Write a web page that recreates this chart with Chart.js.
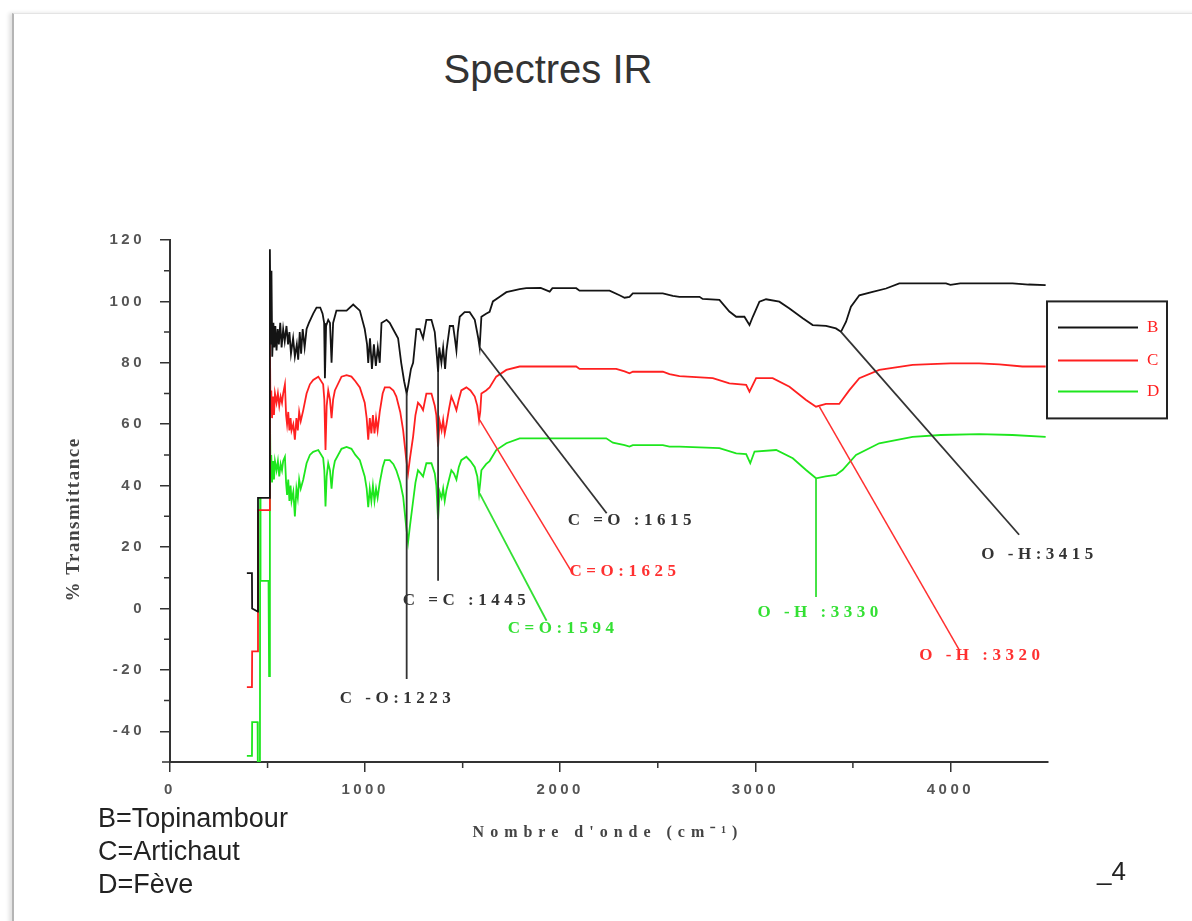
<!DOCTYPE html>
<html><head><meta charset="utf-8">
<script src="https://cdn.jsdelivr.net/npm/chart.js@4.4.1/dist/chart.umd.min.js"></script>
<style>
html,body{margin:0;padding:0;background:#fff;width:1192px;height:921px;overflow:hidden;position:relative;}
#frame{position:absolute;left:12px;top:13px;width:1200px;height:940px;border-left:2px solid #b5b5b5;border-top:1px solid #e4e4e4;box-shadow:-3px 0 4px rgba(0,0,0,0.12);}
#title{position:absolute;left:0;width:1096px;top:49px;line-height:40px;text-align:center;font-family:"Liberation Sans",Arial,sans-serif;font-size:40px;color:#333;}
#key{position:absolute;left:98px;top:802px;font-family:"Liberation Sans",Arial,sans-serif;font-size:27px;line-height:33px;color:#222;}
#num{position:absolute;left:1097px;top:856px;font-family:"Liberation Sans",Arial,sans-serif;font-size:26px;line-height:30px;color:#222;}
canvas{position:absolute;left:0;top:0;}
</style></head>
<body>
<div id="frame"></div>
<div id="title">Spectres IR</div>
<canvas id="c" width="1192" height="921"></canvas>
<div id="key">B=Topinambour<br>C=Artichaut<br>D=Fève</div>
<div id="num">_4</div>
<script>
// ---- Data ----
const bWave = [394,420,421,450,451,508,512,516,520,524,530,535,540,546,552,558,565,572,580,588,597,605,612,620,631,640,650,657,665,672,680,690,700,712,734,751,770,782,790,794,800,811,820,828,836,853,880,905,939,973,998,1010,1016,1025,1035,1045,1055,1065,1075,1084,1110,1126,1143,1169,1185,1200,1213,1222,1235,1246,1263,1280,1297,1314,1340,1357,1368,1374,1380,1391,1400,1410,1417,1434,1451,1460,1468,1475,1485,1510,1536,1562,1580,1587,1596,1620,1638,1655,1690,1724,1758,1792,1826,1900,1946,1960,2031,2082,2099,2253,2304,2330,2355,2372,2526,2577,2611,2714,2730,2816,2867,2902,2944,2970,2987,3021,3055,3123,3175,3243,3294,3362,3413,3439,3465,3490,3533,3601,3670,3738,3840,3977,4000,4050,4147,4318,4400,4488];
const bT    = [11.5,11.5,0,-1,36,36,117,86,110,82,93,85,92,84,91,86,93,85,91,87,92,86,90,83,88,82,86,81,90,83,91,85,91,93,96,98,98,96,93,75,92,94,93,80,93,97,97,97,99,97,91,86,80,88,78,86,79,85,80,93,94,93,91,88,80,74,70,73,78,80,91,91,88,94,94,90,82,77,85,80,85,78,84,92,92,88,84,90,95,96.5,96.5,94,88,85,95,96,96.6,100,101.5,103,103.5,104,104.3,104.4,103.2,104.3,104.3,104.3,103.5,103.5,102,101.2,101.5,102.6,102.6,101.8,101.5,101.5,100.8,100.5,96.7,95,95,92.3,95,99.9,100.7,99.9,97.7,94.5,92.3,92,91.2,90.1,93.4,98.3,102,103.1,104.2,105.9,105.9,105.9,105.4,105.9,105.9,105.9,105.5,105.3];

const cWave = [394,420,421,450,451,508,512,515,519,523,528,533,538,546,553,560,567,574,580,589,595,600,606,612,618,623,632,640,648,655,662,670,683,700,717,734,760,785,791,797,803,811,820,828,836,845,879,905,930,950,973,998,1008,1016,1024,1032,1040,1048,1056,1064,1075,1090,1101,1126,1145,1160,1180,1195,1210,1220,1230,1246,1258,1271,1285,1297,1314,1340,1357,1365,1374,1382,1392,1400,1408,1417,1430,1442,1455,1468,1480,1493,1519,1540,1562,1575,1584,1590,1596,1620,1638,1672,1724,1792,1900,2082,2099,2287,2330,2355,2372,2526,2560,2611,2782,2867,2953,2970,3004,3089,3175,3260,3311,3362,3430,3482,3533,3635,3806,3900,4000,4147,4250,4369,4488];
const cT    = [-25.6,-25.6,-14,-14,32,32,88.5,64,71,62,69,63,70,67,70,66,69,67,70,73,63,60,64,58,62,58,60,55,62,58,64,61,64.6,70,73,74.4,75.5,73,68,51.6,66,71,68,62,68,71,75.5,76,75.5,74,72,67,62,55,62,57,63,57,62,58,64,70,72,72,71,69,64,58,49,44,49,56,63,67,66,64.6,70,70,66,63,52.7,61,58,61.4,57,60,65,69,67,64.6,68,71,72,71,69,66,61.4,64,70,71,72,75.5,77.7,78.8,78.8,78.8,78,78,77.2,76.6,77.1,77.1,76.3,75.7,75,73.3,72.8,70.6,75,75,72.2,67.9,65.7,66.6,66.6,71.1,75,77.7,79.3,79.6,79.8,79.8,79.5,78.8,78.8];

const dWave = [394,420,421,449,450,461,462,464,505,508,512,515,519,523,528,533,538,546,553,560,567,574,580,589,595,600,606,612,618,623,632,640,648,655,662,670,683,700,717,734,760,785,791,797,803,811,820,828,836,845,879,905,930,950,973,998,1008,1016,1024,1032,1040,1048,1056,1064,1075,1090,1101,1126,1145,1160,1180,1195,1210,1220,1230,1246,1258,1271,1285,1297,1314,1340,1357,1365,1374,1382,1392,1400,1408,1417,1430,1442,1455,1468,1480,1493,1519,1540,1562,1575,1584,1590,1596,1620,1638,1672,1724,1792,1826,2236,2270,2330,2355,2372,2526,2560,2611,2816,2902,2953,2974,2996,3107,3192,3260,3311,3360,3413,3447,3516,3635,3806,3950,4147,4318,4488];
const dT    = [-48,-48,-37,-37,-50,-50,36,9,9,-22,64.6,46,50,41,48,42,48,45,48,43,47,45,48,49.4,41,37,42,35,40,35,38,30,39,36,42,39,42,47.3,50,51,51.6,49,45,33.2,43,47.3,45,39,45,48,52,52.6,52,50,48.3,43,39,33,39,35,40,35,39,36,41,46,48.3,48.3,47,45,41,36.4,27,21.5,27,35,41,45,44,43,47.3,47.3,44,40,29,38,36,39,35,38.6,42,45,44,42,46,48.3,49.4,48,46,43,37.5,41,45,47,48,51.6,53.8,55.4,55.4,55.4,54,53.2,52.7,53.2,53.2,52.7,52.7,52.2,50.5,50.3,47.3,51.1,51.6,48.9,45.1,42.4,43,43.5,45.1,50,53.8,55.9,56.5,56.8,56.5,55.9];

const seriesNames  = ['B','C','D'];
const seriesColors = ['#141414','#ff2020','#1ee61e'];
const labelColors  = ['#333333','#ff3030','#33e033'];

// Peak annotations (data coordinates)
const annText   = ['C -O:1223','C =C :1445','C =O :1615','C=O:1625','C=O:1594','O -H :3330','O -H :3320','O -H:3415'];
const annSeries = [0,0,0,1,2,2,1,0];
const annFromX  = [1213,1374,1587,1587,1587,3311,3328,3439];
const annFromY  = [70,77,85,61.4,37.5,42.4,65.7,90.1];
const annToX    = [1213,1374,2238,2058,1930,3311,4045,4352];
const annToY    = [-23,9,31,12,-4,3.7,-13.5,24];
const annLabelX = [870,1193,2038,2048,1731,3011,3840,4158];
const annLabelY = [-29.2,2.4,28.5,11.9,-6.4,-1.2,-15.5,17.4];

// Axis ticks and titles
const xTicks = [0,1000,2000,3000,4000];
const xMinor = [500,1500,2500,3500];
const yTicks = [-40,-20,0,20,40,60,80,100,120];
const yMinor = [-30,-10,10,30,50,70,90,110];
const xTitle = "Nombre d'onde (cm⁻¹)";
const yTitle = '% Transmittance';

const toPts = (xs, ys) => xs.map((v, i) => ({x: v, y: ys[i]}));
const seriesData = [toPts(bWave,bT), toPts(cWave,cT), toPts(dWave,dT)];

const datasets = [];
seriesData.forEach((d, i) => datasets.push({
  label: seriesNames[i], data: d, borderColor: seriesColors[i], borderWidth: 1.8,
  pointRadius: 0, tension: 0, fill: false, order: 2
}));
annText.forEach((t, i) => datasets.push({
  label: 'ann' + i,
  data: [{x: annFromX[i], y: annFromY[i]}, {x: annToX[i], y: annToY[i]}],
  borderColor: labelColors[annSeries[i]], borderWidth: annSeries[i] === 1 ? 1.5 : 1.8,
  pointRadius: 0, tension: 0, fill: false, order: 1, clip: false
}));

const decor = {
  id: 'decor',
  beforeDraw(ch) { ch.ctx.letterSpacing = '3.5px'; },
  afterDraw(ch) {
    const {ctx, chartArea: a, scales: {x, y}} = ch;
    ctx.save();
    ctx.letterSpacing = '0px';
    // minor ticks and axis cross
    ctx.strokeStyle = '#333'; ctx.lineWidth = 1.5;
    ctx.beginPath();
    yMinor.forEach(v => { const p = y.getPixelForValue(v); ctx.moveTo(a.left - 6, p); ctx.lineTo(a.left, p); });
    xMinor.forEach(v => { const p = x.getPixelForValue(v); ctx.moveTo(p, a.bottom); ctx.lineTo(p, a.bottom + 6); });
    ctx.moveTo(a.left - 8, a.bottom); ctx.lineTo(a.left, a.bottom);
    ctx.stroke();

    // annotation labels
    ctx.font = 'bold 17px "Liberation Serif", serif';
    ctx.letterSpacing = '4.5px';
    ctx.textBaseline = 'middle'; ctx.textAlign = 'left';
    annText.forEach((t, i) => {
      ctx.fillStyle = labelColors[annSeries[i]];
      ctx.fillText(t, x.getPixelForValue(annLabelX[i]), y.getPixelForValue(annLabelY[i]));
    });

    // x axis title
    ctx.font = 'bold 16px "Liberation Serif", serif';
    ctx.letterSpacing = '6px';
    ctx.textAlign = 'center'; ctx.textBaseline = 'middle';
    ctx.fillStyle = '#444';
    ctx.fillText(xTitle, (a.left + a.right) / 2 - 1, a.bottom + 71);

    // y axis title
    ctx.save();
    ctx.translate(a.left - 96, y.getPixelForValue(29));
    ctx.rotate(-Math.PI / 2);
    ctx.font = 'bold 19px "Liberation Serif", serif';
    ctx.letterSpacing = '1.5px';
    ctx.textAlign = 'center'; ctx.textBaseline = 'middle';
    ctx.fillStyle = '#444';
    ctx.fillText(yTitle, 0, 0);
    ctx.restore();

    // legend box
    const lx = a.right - 1, ly = y.getPixelForValue(100);
    ctx.letterSpacing = '0px';
    ctx.fillStyle = '#fff';
    ctx.fillRect(lx, ly, 120, 117);
    ctx.strokeStyle = '#222'; ctx.lineWidth = 2;
    ctx.strokeRect(lx, ly, 120, 117);
    const rows = [26, 59, 90];
    ctx.font = '17px "Liberation Serif", serif';
    ctx.textAlign = 'left'; ctx.textBaseline = 'middle';
    seriesNames.forEach((n, i) => {
      ctx.strokeStyle = seriesColors[i]; ctx.lineWidth = 2;
      ctx.beginPath(); ctx.moveTo(lx + 11, ly + rows[i]); ctx.lineTo(lx + 91, ly + rows[i]); ctx.stroke();
      ctx.fillStyle = '#ff2020';
      ctx.fillText(n, lx + 100, ly + rows[i]);
    });
    ctx.restore();
  }
};

const axisCommon = {
  grid: {drawOnChartArea: false, drawTicks: true, tickLength: 10, color: '#333', lineWidth: 1.5},
  border: {display: true, color: '#333', width: 2},
};

new Chart(document.getElementById('c'), {
  type: 'line',
  data: {datasets},
  options: {
    responsive: false, animation: false, devicePixelRatio: 1,
    layout: {padding: {left: 0, top: 240, right: 144, bottom: 59}},
    plugins: {legend: {display: false}, tooltip: {enabled: false}, title: {display: false}},
    scales: {
      x: Object.assign({}, axisCommon, {
        type: 'linear', min: 0, max: 4500,
        afterBuildTicks: s => { s.ticks = xTicks.map(v => ({value: v})); },
        afterFit: s => { s.height = 100; },
        ticks: {font: {family: 'Liberation Sans', size: 15, weight: 'bold'}, color: '#555', padding: 9,
                maxRotation: 0, autoSkip: false, callback: v => String(v)},
        title: {display: false}
      }),
      y: Object.assign({}, axisCommon, {
        type: 'linear', min: -50, max: 120,
        afterBuildTicks: s => { s.ticks = yTicks.map(v => ({value: v})); },
        afterFit: s => { s.width = 170; },
        ticks: {font: {family: 'Liberation Sans', size: 15, weight: 'bold'}, color: '#555', padding: 15,
                autoSkip: false, callback: v => String(v)},
        title: {display: false}
      })
    }
  },
  plugins: [decor]
});
</script>
</body></html>
